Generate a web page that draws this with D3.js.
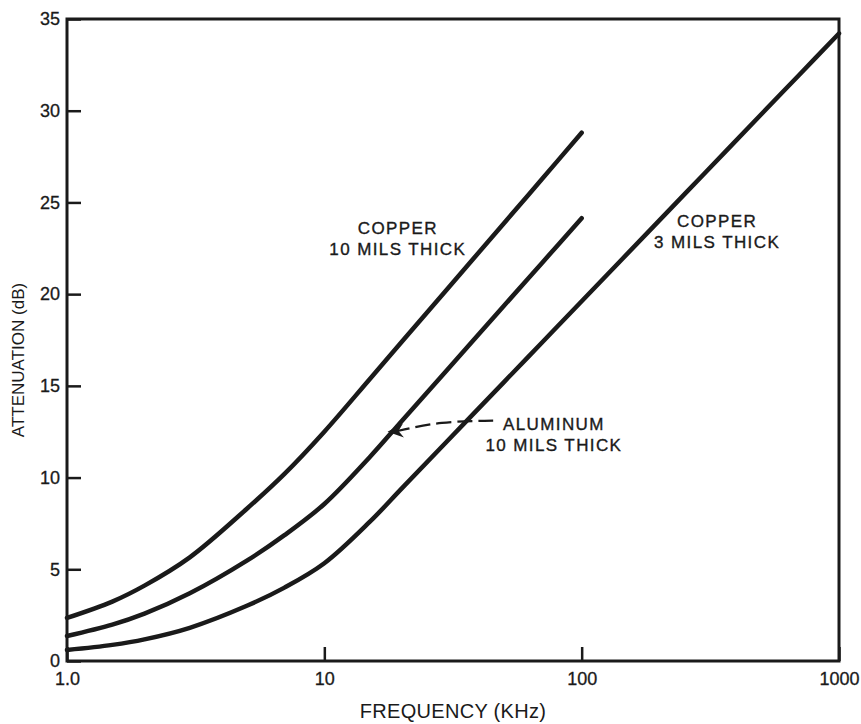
<!DOCTYPE html>
<html>
<head>
<meta charset="utf-8">
<script src="https://cdn.jsdelivr.net/npm/d3@7"></script>
<style>
  body { margin: 0; background: #fff; }
  text { font-family: "Liberation Sans", Arial, sans-serif; fill: #1a1a1a; }
</style>
</head>
<body>
<div id="chart"></div>
<script>
// frequency in KHz, attenuation in dB
var freqs = [1, 1.5, 2, 3, 5, 7, 10, 15, 20, 30, 50, 70, 100]
var freqsLong = [1, 1.5, 2, 3, 5, 7, 10, 15, 20, 30, 50, 70, 100, 200, 300, 500, 700, 1000]

var copper10 = [2.35, 3.24, 4.11, 5.65, 8.3, 10.2, 12.5, 15.36, 17.4, 20.27, 23.88, 26.26, 28.8]
var aluminum10 = [1.36, 1.98, 2.58, 3.69, 5.47, 6.86, 8.56, 11.11, 13.09, 15.87, 19.38, 21.69, 24.14]
var copper3 = [0.6, 0.88, 1.18, 1.81, 3.01, 4.0, 5.33, 7.58, 9.41, 11.98, 15.22, 17.35, 19.61, 24.01, 26.58, 29.82, 31.95, 34.21]

var yTicks = [0, 5, 10, 15, 20, 25, 30, 35]
var xTicks = [1, 10, 100, 1000]
var xTickLabels = ['1.0', '10', '100', '1000']

// labels placed in data units [freq, dB]
var labels = [
  {lines: ['COPPER', '10 MILS THICK'], at: [19.3, 23.3]},
  {lines: ['COPPER', '3 MILS THICK'], at: [336, 23.66]},
  {lines: ['ALUMINUM', '10 MILS THICK'], at: [78, 12.6]}
]
var arrowPts = [[45.3, 13.1], [28.2, 13.06], [17.6, 12.5]]

var width = 861, height = 724
var svg = d3.select('#chart').append('svg')
  .attr('width', width).attr('height', height)

var x = d3.scaleLog().domain([1, 1000]).range([67, 839])
var y = d3.scaleLinear().domain([0, 35]).range([661, 19])
var ink = '#1a1a1a'

// axes
var yAxis = d3.axisLeft(y).tickValues(yTicks).tickSize(-14).tickPadding(7)
var gy = svg.append('g').attr('transform', `translate(${x(1)},0)`).call(yAxis)
gy.select('.domain').remove()
gy.selectAll('line').attr('stroke', ink).attr('stroke-width', 2.5)
gy.selectAll('text').style('font-size', '18px').attr('fill', ink)
  .attr('stroke', ink).attr('stroke-width', 0.3)

var xAxis = d3.axisBottom(x).tickValues(xTicks)
  .tickFormat((d, i) => xTickLabels[i]).tickSize(-14).tickPadding(11)
var gx = svg.append('g').attr('transform', `translate(0,${y(0)})`).call(xAxis)
gx.select('.domain').remove()
gx.selectAll('line').attr('stroke', ink).attr('stroke-width', 2.5)
gx.selectAll('text').style('font-size', '18px').attr('fill', ink)
  .attr('stroke', ink).attr('stroke-width', 0.3)

// frame
svg.append('rect')
  .attr('x', x(1)).attr('y', y(35))
  .attr('width', x(1000) - x(1)).attr('height', y(0) - y(35))
  .attr('fill', 'none').attr('stroke', ink).attr('stroke-width', 3)

// curves
var line = d3.line().x(d => x(d[0])).y(d => y(d[1])).curve(d3.curveCatmullRom.alpha(0.5))
var series = [
  d3.zip(freqs, copper10),
  d3.zip(freqs, aluminum10),
  d3.zip(freqsLong, copper3)
]
svg.selectAll('path.curve').data(series).enter().append('path')
  .attr('class', 'curve')
  .attr('d', line)
  .attr('fill', 'none').attr('stroke', ink)
  .attr('stroke-width', 4.5).attr('stroke-linecap', 'round')

// labels
labels.forEach(l => {
  var t = svg.append('text')
    .attr('x', x(l.at[0])).attr('y', y(l.at[1]))
    .attr('text-anchor', 'middle')
    .attr('stroke', ink).attr('stroke-width', 0.35)
    .style('font-size', '17px').style('letter-spacing', '1.4px')
  l.lines.forEach((s, i) => {
    t.append('tspan').attr('x', x(l.at[0])).attr('dy', i === 0 ? 0 : 21).text(s)
  })
})

// dashed arrow
var ap = arrowPts.map(d => [x(d[0]), y(d[1])])
var tip = ap[ap.length - 1]
var prev = ap[ap.length - 2]
var ang = Math.atan2(tip[1] - prev[1], tip[0] - prev[0]) + 0.12
svg.append('path')
  .attr('d', d3.line().curve(d3.curveBasis)(ap.slice(0, -1).concat([[tip[0] - 10 * Math.cos(ang), tip[1] - 10 * Math.sin(ang)]])))
  .attr('fill', 'none').attr('stroke', ink).attr('stroke-width', 2.2)
  .attr('stroke-dasharray', '15,6')

var head = [[0, 0], [-16, -7], [-11, 0], [-16, 7]]
svg.append('path')
  .attr('d', 'M' + head.join('L') + 'Z')
  .attr('transform', `translate(${tip[0]},${tip[1]}) rotate(${ang * 180 / Math.PI})`)
  .attr('fill', ink)

// axis titles
svg.append('text')
  .attr('x', (x(1) + x(1000)) / 2).attr('y', 718)
  .attr('text-anchor', 'middle')
  .style('font-size', '20px').style('letter-spacing', '0.3px')
  .text('FREQUENCY (KHz)')

svg.append('text')
  .attr('transform', `translate(24,${(y(0) + y(35)) / 2 + 20}) rotate(-90)`)
  .attr('text-anchor', 'middle')
  .style('font-size', '17px')
  .text('ATTENUATION (dB)')
</script>
</body>
</html>
